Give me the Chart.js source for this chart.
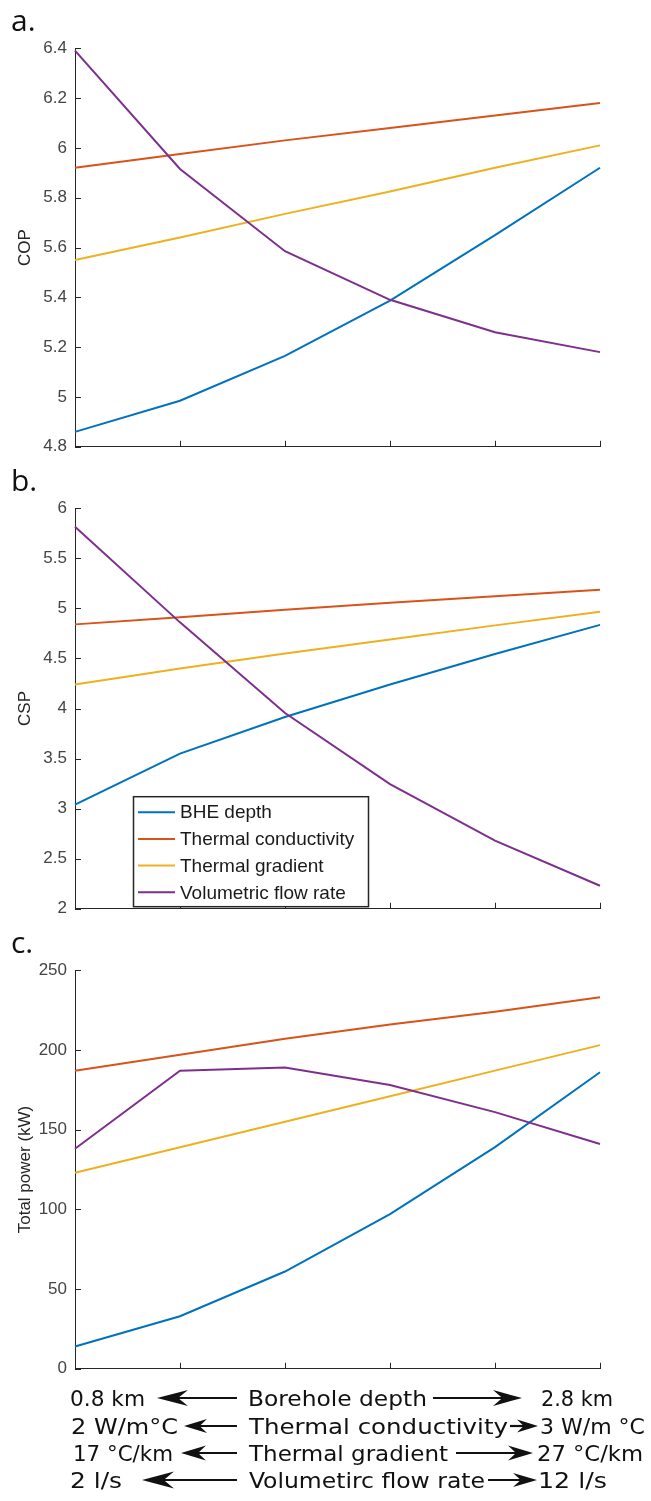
<!DOCTYPE html>
<html>
<head>
<meta charset="utf-8">
<script src="https://cdn.jsdelivr.net/npm/chart.js@4.4.0/dist/chart.umd.min.js"></script>
<style>
  html, body { margin: 0; padding: 0; background: #fff; }
  #page { position: relative; width: 651px; height: 1501px; overflow: hidden; background: #fff; }
  .panel { position: absolute; left: 0; width: 651px; }
  #overlay { position: absolute; left: 0; top: 0; pointer-events: none; }
</style>
</head>
<body>
<div id="page">
  <div class="panel" id="pa" style="top:30px;height:435px;"><canvas id="ca"></canvas></div>
  <div class="panel" id="pb" style="top:490px;height:437px;"><canvas id="cb"></canvas></div>
  <div class="panel" id="pc" style="top:952px;height:435px;"><canvas id="cc"></canvas></div>
  <svg id="overlay" width="651" height="1501" xmlns="http://www.w3.org/2000/svg"></svg>
</div>
<script>
// ---------------- DATA ----------------
const categories = ['1', '2', '3', '4', '5', '6'];
const seriesNames = ['BHE depth', 'Thermal conductivity', 'Thermal gradient', 'Volumetric flow rate'];

const copBHE  = [4.86, 4.985, 5.165, 5.387, 5.65, 5.92];
const copCond = [5.92, 5.975, 6.03, 6.08, 6.13, 6.18];
const copGrad = [5.55, 5.64, 5.735, 5.825, 5.92, 6.01];
const copFlow = [6.39, 5.915, 5.585, 5.39, 5.26, 5.18];

const cspBHE  = [3.04, 3.55, 3.915, 4.24, 4.545, 4.835];
const cspCond = [4.84, 4.91, 4.985, 5.055, 5.12, 5.185];
const cspGrad = [4.24, 4.40, 4.55, 4.69, 4.83, 4.965];
const cspFlow = [5.815, 4.86, 3.955, 3.245, 2.68, 2.23];

const powBHE  = [14, 33, 61, 97, 139, 186];
const powCond = [187, 197, 207, 216, 224, 233];
const powGrad = [123, 139, 155, 171, 187, 203];
const powFlow = [138, 187, 189, 178, 161, 141];

const copTicks = [4.8, 5, 5.2, 5.4, 5.6, 5.8, 6, 6.2, 6.4];
const cspTicks = [2, 2.5, 3, 3.5, 4, 4.5, 5, 5.5, 6];
const powTicks = [0, 50, 100, 150, 200, 250];

const yTitles = ['COP', 'CSP', 'Total power (kW)'];
const panelLetters = ['a.', 'b.', 'c.'];

const rangeLeft   = ['0.8 km', '2 W/m°C', '17 °C/km', '2 l/s'];
const rangeCenter = ['Borehole depth', 'Thermal conductivity', 'Thermal gradient', 'Volumetirc flow rate'];
const rangeRight  = ['2.8 km', '3 W/m °C', '27 °C/km', '12 l/s'];

// ---------------- STYLE ----------------
const colors = ['#0072BD', '#D95319', '#EDB120', '#7E2F8E'];
const axisColor = '#262626';
const tickFont = { family: '"Liberation Sans", Arial, sans-serif', size: 17 };

function makeDatasets(arrs) {
  return arrs.map((d, i) => ({
    label: seriesNames[i],
    data: d,
    borderColor: colors[i],
    backgroundColor: colors[i],
    borderWidth: 2,
    pointRadius: 0,
    tension: 0,
    fill: false,
    clip: false,
    order: 3 - i
  }));
}

const inwardTicks = {
  id: 'inwardTicks',
  afterDraw(chart) {
    const ctx = chart.ctx;
    const x = chart.scales.x, y = chart.scales.y;
    ctx.save();
    ctx.strokeStyle = axisColor;
    ctx.lineWidth = 1;
    ctx.beginPath();
    y.ticks.forEach((t, i) => {
      const py = Math.round(y.getPixelForTick(i)) + 0.5;
      ctx.moveTo(y.right, py); ctx.lineTo(y.right + 6, py);
    });
    x.ticks.forEach((t, i) => {
      const px = Math.round(x.getPixelForTick(i)) + 0.5;
      ctx.moveTo(px, x.top); ctx.lineTo(px, x.top - 6);
    });
    ctx.stroke();
    ctx.restore();
  }
};

const boxLegend = {
  id: 'boxLegend',
  afterDraw(chart, args, opts) {
    if (!opts.show) return;
    const ctx = chart.ctx;
    const ca = chart.chartArea;
    const bx = ca.left + 58, by = ca.top + 288, bw = 235, bh = 110;
    ctx.save();
    ctx.fillStyle = '#fff';
    ctx.fillRect(bx, by, bw, bh);
    ctx.strokeStyle = axisColor;
    ctx.lineWidth = 1.5;
    ctx.strokeRect(bx + 0.5, by + 0.5, bw, bh);
    ctx.font = '19px "Liberation Sans", Arial, sans-serif';
    ctx.textBaseline = 'middle';
    chart.data.datasets.forEach((ds, i) => {
      const cy = by + 16 + i * 26.7;
      ctx.strokeStyle = ds.borderColor;
      ctx.lineWidth = 2;
      ctx.beginPath(); ctx.moveTo(bx + 5, cy); ctx.lineTo(bx + 42, cy); ctx.stroke();
      ctx.fillStyle = '#1a1a1a';
      ctx.fillText(ds.label, bx + 47, cy + 1);
    });
    ctx.restore();
  }
};

function makeChart(id, arrs, ticks, title, legend) {
  return new Chart(document.getElementById(id), {
    type: 'line',
    data: { labels: categories, datasets: makeDatasets(arrs) },
    options: {
      responsive: true,
      maintainAspectRatio: false,
      animation: false,
      layout: { padding: { top: 15, right: 51, bottom: 0, left: 0 } },
      plugins: { legend: { display: false }, tooltip: { enabled: false }, boxLegend: { show: legend } },
      scales: {
        x: {
          type: 'category',
          offset: false,
          grid: { display: true, drawOnChartArea: false, drawTicks: false },
          border: { display: true, color: axisColor, width: 1 },
          ticks: { display: false },
          afterFit(s) { s.height = 10; }
        },
        y: {
          type: 'linear',
          min: ticks[0],
          max: ticks[ticks.length - 1],
          afterBuildTicks(s) { s.ticks = ticks.map(v => ({ value: v })); },
          grid: { display: true, drawOnChartArea: false, drawTicks: false },
          border: { display: true, color: axisColor, width: 1 },
          ticks: { autoSkip: false, padding: 8, color: '#444', font: tickFont, callback: v => String(v) },
          title: { display: true, text: title, color: axisColor, font: tickFont, padding: { top: 15, bottom: 0 } },
          afterFit(s) { s.width = 75; }
        }
      }
    },
    plugins: [inwardTicks, boxLegend]
  });
}

makeChart('ca', [copBHE, copCond, copGrad, copFlow], copTicks, yTitles[0], false);
makeChart('cb', [cspBHE, cspCond, cspGrad, cspFlow], cspTicks, yTitles[1], true);
makeChart('cc', [powBHE, powCond, powGrad, powFlow], powTicks, yTitles[2], false);

// ---------------- STATIC TEXT OVERLAY ----------------
const svg = document.getElementById('overlay');
const NS = 'http://www.w3.org/2000/svg';
function addText(str, x, y, size, family, len, fill) {
  const t = document.createElementNS(NS, 'text');
  t.setAttribute('x', x); t.setAttribute('y', y);
  t.setAttribute('font-size', size);
  t.setAttribute('font-family', family);
  t.setAttribute('fill', fill || '#111');
  if (len) { t.setAttribute('textLength', len); t.setAttribute('lengthAdjust', 'spacingAndGlyphs'); }
  t.textContent = str;
  svg.appendChild(t);
}
function addArrow(tail, tip, y, L, W) {
  const dir = tip > tail ? 1 : -1;
  const l = document.createElementNS(NS, 'line');
  l.setAttribute('x1', tail); l.setAttribute('y1', y);
  l.setAttribute('x2', tip - dir * L * 0.6); l.setAttribute('y2', y);
  l.setAttribute('stroke', '#111'); l.setAttribute('stroke-width', 2.2);
  svg.appendChild(l);
  const p = document.createElementNS(NS, 'polygon');
  const pts = [[tip, y], [tip - dir * L, y - W], [tip - dir * L * 0.68, y], [tip - dir * L, y + W]];
  p.setAttribute('points', pts.map(q => q.join(',')).join(' '));
  p.setAttribute('fill', '#111');
  svg.appendChild(p);
}

// panel letters
const letterPos = [31, 491, 953];
panelLetters.forEach((s, i) => addText(s, 11, letterPos[i], 30, '"Open Sans", Lato, sans-serif', null, '#111'));

// range description rows
const rowBase = [1406, 1434, 1461, 1488];
const leftBox   = [[70, 75], [71, 107], [73, 100], [70, 52]];
const centerBox = [[248, 179], [249, 259], [249, 199], [249, 236]];
const rightBox  = [[541, 72], [540, 105], [537, 106], [538, 69]];
const leftArrow  = [[237, 157, 31, 8], [237, 184, 23, 7], [237, 181, 25, 7.5], [237, 142, 32, 8.5]];
const rightArrow = [[433, 522, 29, 8], [510, 538, 21, 6.5], [456, 533, 25, 7.5], [488, 537, 24, 7]];
const rowFont = '"DejaVu Sans Condensed", "DejaVu Sans", Verdana, sans-serif';
for (let i = 0; i < 4; i++) {
  const yb = rowBase[i];
  addText(rangeLeft[i], leftBox[i][0], yb, 21, rowFont, leftBox[i][1]);
  addText(rangeCenter[i], centerBox[i][0], yb, 21, rowFont, centerBox[i][1]);
  addText(rangeRight[i], rightBox[i][0], yb, 21, rowFont, rightBox[i][1]);
  const ay = yb - 8;
  addArrow(leftArrow[i][0], leftArrow[i][1], ay, leftArrow[i][2], leftArrow[i][3]);
  addArrow(rightArrow[i][0], rightArrow[i][1], ay, rightArrow[i][2], rightArrow[i][3]);
}
</script>
</body>
</html>
